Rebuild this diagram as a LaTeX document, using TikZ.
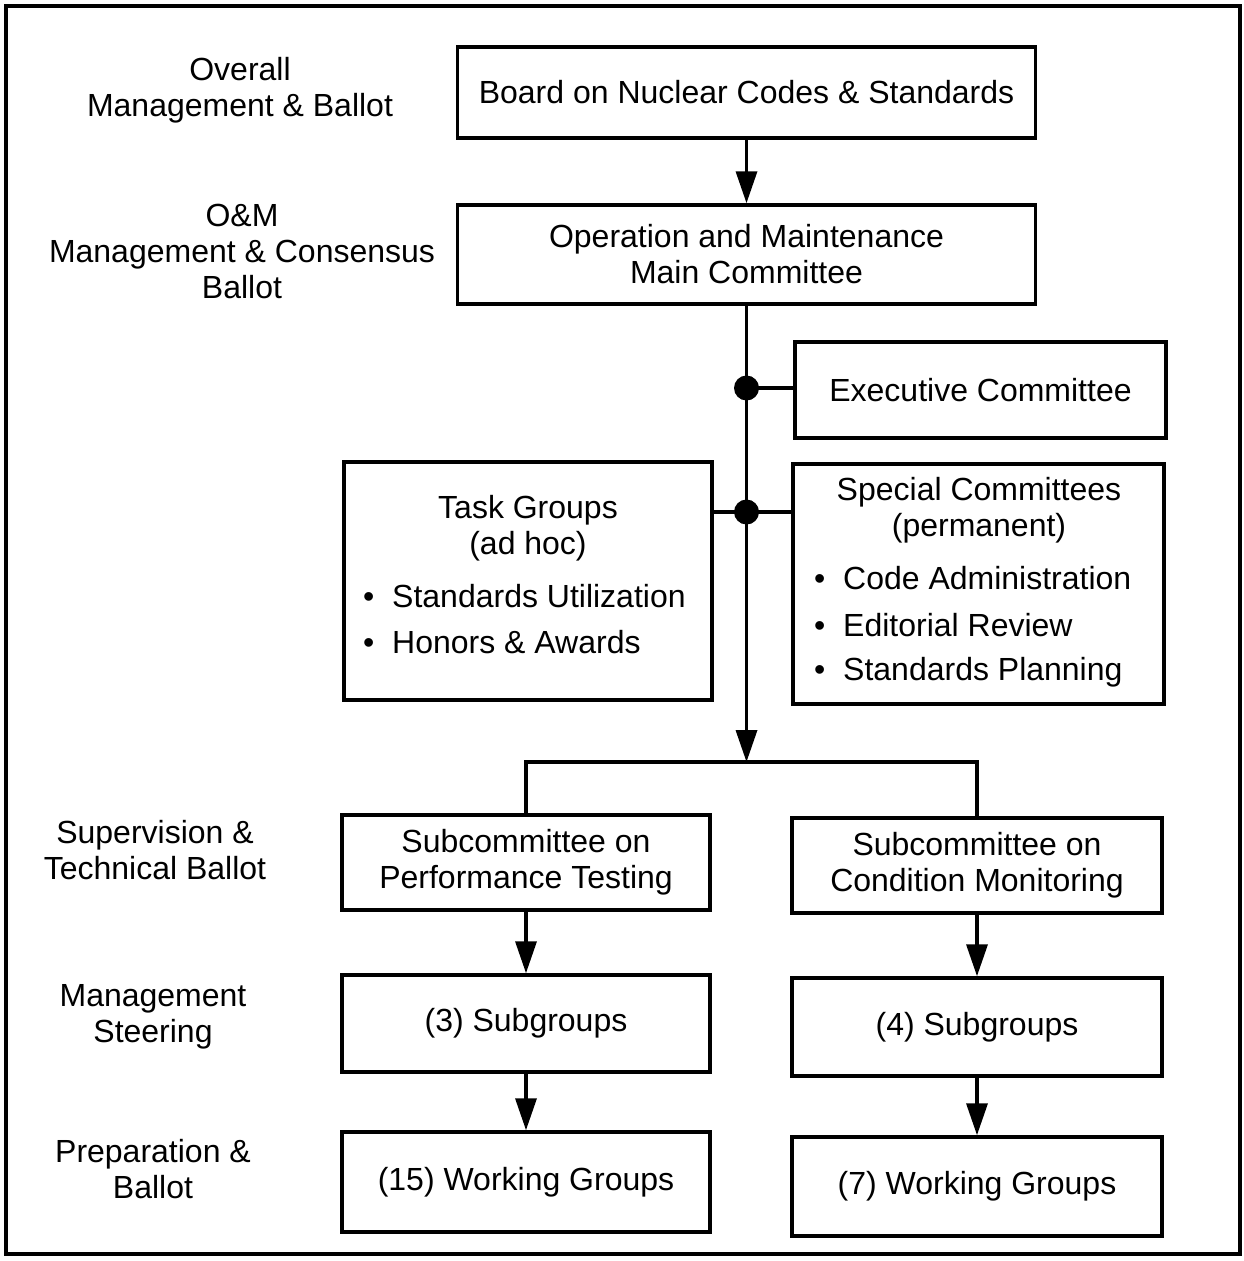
\documentclass[tikz,border=0pt]{standalone}
\usepackage{fontspec}
\setmainfont{Liberation Sans}
\usetikzlibrary{arrows.meta}
\begin{document}
\begin{tikzpicture}[x=1pt,y=-1pt,
  box/.style={draw, line width=3.5pt, inner sep=0pt, align=center, font=\fontsize{32}{36}\selectfont},
  lbl/.style={align=center, font=\fontsize{32}{36}\selectfont, inner sep=0pt},
  arr/.style={line width=3.5pt, -{Triangle[length=32pt,width=21pt]}},
  con/.style={line width=3.5pt, line join=miter},
  dot/.style={circle, fill, inner sep=0pt, minimum size=25pt}]
\useasboundingbox (0,0) rectangle (1244,1261);
\draw[line width=4pt] (6,6) rectangle (1240,1254);

% left labels
\node[lbl] (l1) at (240,90) {Overall\\Management \& Ballot};
\node[lbl] (l2) at (242,251) {O\&M\\Management \& Consensus\\Ballot};
\node[lbl] (l3) at (155,850) {Supervision \&\\Technical Ballot};
\node[lbl] (l4) at (153,1017) {Management\\Steering};
\node[lbl] (l5) at (153,1169) {Preparation \&\\Ballot};

% main boxes
\node[box, minimum width=578pt, minimum height=91pt] (board) at (746.5,92.5) {Board on Nuclear Codes \& Standards};
\node[box, minimum width=578pt, minimum height=99pt] (om) at (746.5,254.5) {Operation and Maintenance\\Main Committee};
\node[box, minimum width=371pt, minimum height=96pt] (exec) at (980.5,390) {Executive Committee};

\node[box, minimum width=368pt, minimum height=238pt] (task) at (528,581) {};
\node[lbl] (tasktitle) at (528,528) {Task Groups\\(ad hoc)};
\node[lbl, anchor=west] (task1) at (363,596) {\makebox[29pt][l]{•}Standards Utilization};
\node[lbl, anchor=west] (task2) at (363,642) {\makebox[29pt][l]{•}Honors \& Awards};

\node[box, minimum width=371pt, minimum height=240pt] (special) at (978.5,584) {};
\node[lbl] (spectitle) at (979,510) {Special Committees\\(permanent)};
\node[lbl, anchor=west] (spec1) at (814,578) {\makebox[29pt][l]{•}Code Administration};
\node[lbl, anchor=west] (spec2) at (814,625) {\makebox[29pt][l]{•}Editorial Review};
\node[lbl, anchor=west] (spec3) at (814,672) {\makebox[29pt][l]{•}Standards Planning};

\node[box, minimum width=368pt, minimum height=95pt] (spt) at (526,862.5) {Subcommittee on\\Performance Testing};
\node[box, minimum width=370pt, minimum height=95pt] (scm) at (977,865.5) {Subcommittee on\\Condition Monitoring};
\node[box, minimum width=368pt, minimum height=97pt] (sg3) at (526,1023.5) {(3) Subgroups};
\node[box, minimum width=370pt, minimum height=98pt] (sg4) at (977,1027) {(4) Subgroups};
\node[box, minimum width=368pt, minimum height=100pt] (wg15) at (526,1182) {(15) Working Groups};
\node[box, minimum width=370pt, minimum height=99pt] (wg7) at (977,1186.5) {(7) Working Groups};

% connectors
\draw[arr] (board.south) -- (om.north);
\coordinate (bar) at (746.5,762);
\node[dot] (d1) at (746.5,388) {};
\node[dot] (d2) at (746.5,512) {};
\draw[arr] (om.south) -- (bar);
\draw[con] (d1.center) -- (d1.center -| exec.west);
\draw[con] (d2.center -| task.east) -- (d2.center -| special.west);
\coordinate (barL) at (526,762);
\coordinate (barR) at (977,762);
\draw[con] (spt.north) -- (barL) -- (barR) -- (scm.north);
\draw[arr] (spt.south) -- (sg3.north);
\draw[arr] (sg3.south) -- (wg15.north);
\draw[arr] (scm.south) -- (sg4.north);
\draw[arr] (sg4.south) -- (wg7.north);
\end{tikzpicture}
\end{document}
